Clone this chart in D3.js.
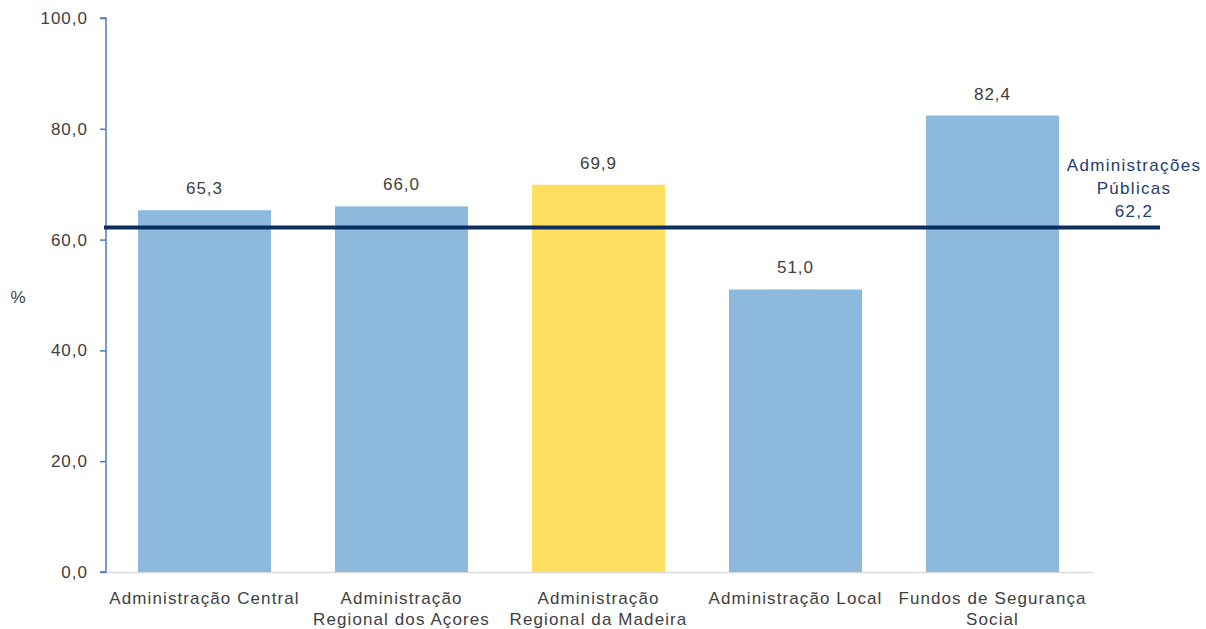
<!DOCTYPE html>
<html>
<head>
<meta charset="utf-8">
<script src="https://cdn.jsdelivr.net/npm/d3@7"></script>
<style>
  html, body { margin: 0; padding: 0; background: #ffffff; }
  svg { display: block; font-family: "Liberation Sans", Arial, sans-serif; }
</style>
</head>
<body>
<svg id="chart" width="1206" height="629"></svg>
<script>
// Sub-sector values (%)
const categories = [
  ["Administração Central"],
  ["Administração", "Regional dos Açores"],
  ["Administração", "Regional da Madeira"],
  ["Administração Local"],
  ["Fundos de Segurança", "Social"]
];
const values = [65.3, 66.0, 69.9, 51.0, 82.4];
const highlight = [false, false, true, false, false];
const referenceLabel = ["Administrações", "Públicas"];
const referenceValue = 62.2;
const yTicks = [0, 20, 40, 60, 80, 100];

const fmt = v => v.toFixed(1).replace(".", ",");

const svg = d3.select("#chart");
const plotLeft = 106, plotRight = 1091, plotTop = 18, plotBottom = 572;

const x = d3.scaleBand()
  .domain(d3.range(values.length))
  .range([plotLeft, plotRight])
  .paddingInner(0.325)
  .paddingOuter(0.1625);

const y = d3.scaleLinear().domain([0, 100]).range([plotBottom, plotTop]);

// x baseline
svg.append("line")
  .attr("x1", plotLeft).attr("x2", plotRight + 2)
  .attr("y1", plotBottom + 0.5).attr("y2", plotBottom + 0.5)
  .attr("stroke", "#d9d9d9").attr("stroke-width", 1.5);

// bars
svg.append("g").selectAll("rect")
  .data(values)
  .join("rect")
  .attr("x", (d, i) => x(i))
  .attr("width", x.bandwidth())
  .attr("y", d => y(d))
  .attr("height", d => y(0) - y(d))
  .attr("fill", (d, i) => highlight[i] ? "#ffdf60" : "#8cb9dc");

// value labels
svg.append("g").selectAll("text")
  .data(values)
  .join("text")
  .attr("x", (d, i) => x(i) + x.bandwidth() / 2)
  .attr("y", d => y(d) - 16)
  .attr("text-anchor", "middle")
  .attr("font-size", 17)
  .attr("letter-spacing", 1)
  .attr("fill", "#404040")
  .text(d => fmt(d));

// y axis
const yAxis = d3.axisLeft(y)
  .tickValues(yTicks)
  .tickSize(6)
  .tickPadding(12)
  .tickFormat(fmt);
const gy = svg.append("g")
  .attr("transform", `translate(${plotLeft},0)`)
  .call(yAxis);
gy.select(".domain").attr("stroke", "#4a7ebb").attr("stroke-width", 1.5)
  .attr("d", `M-6,${plotTop}H0V${plotBottom}H-6`);
gy.selectAll(".tick line").attr("stroke", "#4a7ebb").attr("stroke-width", 1.5);
gy.selectAll(".tick text")
  .attr("font-size", 17)
  .attr("letter-spacing", 1)
  .attr("fill", "#404040")
  .attr("font-family", "'Liberation Sans', Arial, sans-serif");

// y unit
svg.append("text")
  .attr("x", 18).attr("y", 303)
  .attr("text-anchor", "middle")
  .attr("font-size", 17)
  .attr("fill", "#404040")
  .text("%");

// category labels
const gx = svg.append("g");
categories.forEach((lines, i) => {
  const t = gx.append("text")
    .attr("x", x(i) + x.bandwidth() / 2)
    .attr("y", 604)
    .attr("text-anchor", "middle")
    .attr("font-size", 17)
    .attr("letter-spacing", 1.1)
    .attr("fill", "#404040");
  lines.forEach((ln, j) => {
    t.append("tspan")
      .attr("x", x(i) + x.bandwidth() / 2)
      .attr("dy", j === 0 ? 0 : 21)
      .text(ln);
  });
});

// reference line
svg.append("line")
  .attr("x1", plotLeft - 2).attr("x2", 1160)
  .attr("y1", y(referenceValue)).attr("y2", y(referenceValue))
  .attr("stroke", "#0c2f5f").attr("stroke-width", 4);

const refText = svg.append("text")
  .attr("text-anchor", "middle")
  .attr("font-size", 17)
  .attr("letter-spacing", 1.3)
  .attr("fill", "#1f3d6e");
[...referenceLabel, fmt(referenceValue)].forEach((ln, j) => {
  refText.append("tspan")
    .attr("x", 1134)
    .attr("y", 171 + j * 23)
    .text(ln);
});
</script>
</body>
</html>
